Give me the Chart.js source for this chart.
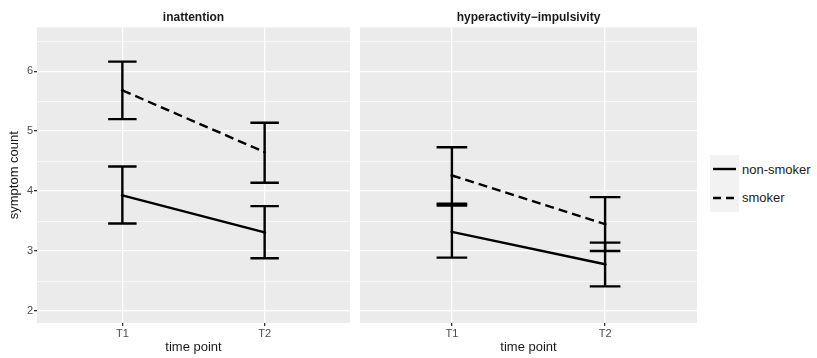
<!DOCTYPE html>
<html>
<head>
<meta charset="utf-8">
<script src="https://cdn.jsdelivr.net/npm/chart.js@4"></script>
<style>
  body { margin: 0; background: #fff; width: 817px; height: 358px; position: relative; overflow: hidden;
         font-family: "Liberation Sans", Arial, sans-serif; }
  canvas { position: absolute; top: 0; }
  #c1 { left: 0; }
  #c2 { left: 355px; }
  .legend { position: absolute; left: 710px; top: 155px; }
  .row { height: 28.5px; display: flex; align-items: center; }
  .key { width: 29px; height: 28.5px; background: #f2f2f2; }
  .key svg { display: block; }
  .lab { margin-left: 3px; font-size: 13px; color: #1a1a1a; }
</style>
</head>
<body>
<canvas id="c1" width="355" height="358"></canvas>
<canvas id="c2" width="347" height="358"></canvas>
<div class="legend">
  <div class="row"><div class="key"><svg width="29" height="28"><line x1="3" y1="14" x2="26" y2="14" stroke="#000" stroke-width="2.4"/></svg></div><span class="lab">non-smoker</span></div>
  <div class="row"><div class="key"><svg width="29" height="28"><line x1="3" y1="14" x2="26" y2="14" stroke="#000" stroke-width="2.4" stroke-dasharray="8,5"/></svg></div><span class="lab">smoker</span></div>
</div>
<script>
// data
const timePoints = ['T1', 'T2'];
const yTicks = [2, 3, 4, 5, 6];

const inattNonSmoker = [3.93, 3.31];
const inattNonSmokerLow = [3.46, 2.88];
const inattNonSmokerHigh = [4.41, 3.75];
const inattSmoker = [5.68, 4.65];
const inattSmokerLow = [5.20, 4.14];
const inattSmokerHigh = [6.16, 5.14];

const hyperNonSmoker = [3.32, 2.78];
const hyperNonSmokerLow = [2.89, 2.41];
const hyperNonSmokerHigh = [3.76, 3.14];
const hyperSmoker = [4.26, 3.45];
const hyperSmokerLow = [3.79, 3.00];
const hyperSmokerHigh = [4.73, 3.90];

const font = '"Liberation Sans", Arial, sans-serif';
// major + minor grid positions
const yGrid = [];
yTicks.forEach(v => { yGrid.push(v); yGrid.push(v + 0.5); });

const toPoints = vals => vals.map((v, i) => ({ x: i + 1, y: v }));

const panelBg = {
  id: 'panelBg',
  beforeDraw(chart) {
    const a = chart.chartArea, c = chart.ctx;
    c.save();
    c.fillStyle = '#ebebeb';
    c.fillRect(a.left, a.top, a.right - a.left, a.bottom - a.top);
    c.restore();
  }
};

const errorBars = {
  id: 'errorBars',
  afterDatasetsDraw(chart) {
    const c = chart.ctx, xs = chart.scales.x, ys = chart.scales.y;
    c.save();
    c.strokeStyle = '#000';
    c.lineWidth = 2.4;
    chart.data.datasets.forEach(ds => {
      ds.low.forEach((lo, i) => {
        const hi = ds.high[i];
        const x = xs.getPixelForValue(i + 1);
        const x0 = xs.getPixelForValue(i + 0.9), x1 = xs.getPixelForValue(i + 1.1);
        const y0 = ys.getPixelForValue(lo), y1 = ys.getPixelForValue(hi);
        c.beginPath();
        c.moveTo(x, y0); c.lineTo(x, y1);
        c.moveTo(x0, y0); c.lineTo(x1, y0);
        c.moveTo(x0, y1); c.lineTo(x1, y1);
        c.stroke();
      });
    });
    c.restore();
  }
};

function makePanel(id, title, ns, nsLow, nsHigh, sm, smLow, smHigh, first) {
  return new Chart(document.getElementById(id), {
    type: 'line',
    data: {
      datasets: [
        { label: 'non-smoker', data: toPoints(ns), low: nsLow, high: nsHigh,
          borderColor: '#000', borderWidth: 2.4, pointRadius: 1.5, pointBackgroundColor: '#000', pointBorderWidth: 0 },
        { label: 'smoker', data: toPoints(sm), low: smLow, high: smHigh,
          borderColor: '#000', borderWidth: 2.4, borderDash: [9, 5], pointRadius: 1.5, pointBackgroundColor: '#000', pointBorderWidth: 0 }
      ]
    },
    options: {
      responsive: false,
      animation: false,
      layout: { padding: { left: first ? 7 : 0, right: 5, top: 0, bottom: 0 } },
      plugins: {
        legend: { display: false },
        tooltip: { enabled: false },
        title: { display: true, text: title, fullSize: false, color: '#1a1a1a',
                 font: { family: font, size: 12, weight: 'bold' }, padding: { top: 10, bottom: 3 } }
      },
      scales: {
        x: {
          type: 'linear', min: 0.4, max: 2.6,
          afterBuildTicks: s => { s.ticks = timePoints.map((t, i) => ({ value: i + 1 })); },
          afterFit: s => { s.height = 35; },
          ticks: { callback: v => timePoints[v - 1], color: '#4d4d4d', font: { family: font, size: 11 }, padding: 1, autoSkip: false, maxRotation: 0 },
          grid: { color: '#fff', lineWidth: 1.3, tickLength: 3, tickColor: '#333' },
          border: { display: false },
          title: { display: true, text: 'time point', color: '#1a1a1a', font: { family: font, size: 13 }, padding: { top: 0, bottom: 3 } }
        },
        y: {
          min: 1.8, max: 6.73,
          afterBuildTicks: s => { s.ticks = yGrid.map(v => ({ value: v })); },
          afterFit: s => { s.width = first ? 30 : 5; },
          ticks: { display: first, callback: v => Number.isInteger(v) ? v : '', color: '#4d4d4d',
                   font: { family: font, size: 11 }, padding: 1, autoSkip: false },
          grid: { color: '#fff', drawTicks: first, tickLength: 3,
                  lineWidth: ctx => Number.isInteger(ctx.tick.value) ? 1.3 : 0.6,
                  tickColor: ctx => Number.isInteger(ctx.tick.value) ? '#333' : 'rgba(0,0,0,0)' },
          border: { display: false },
          title: { display: first, text: 'symptom count', color: '#1a1a1a', font: { family: font, size: 13 }, padding: { top: 0, bottom: 0 } }
        }
      }
    },
    plugins: [panelBg, errorBars]
  });
}

makePanel('c1', 'inattention', inattNonSmoker, inattNonSmokerLow, inattNonSmokerHigh,
          inattSmoker, inattSmokerLow, inattSmokerHigh, true);
makePanel('c2', 'hyperactivity\u2212impulsivity', hyperNonSmoker, hyperNonSmokerLow, hyperNonSmokerHigh,
          hyperSmoker, hyperSmokerLow, hyperSmokerHigh, false);
</script>
</body>
</html>
